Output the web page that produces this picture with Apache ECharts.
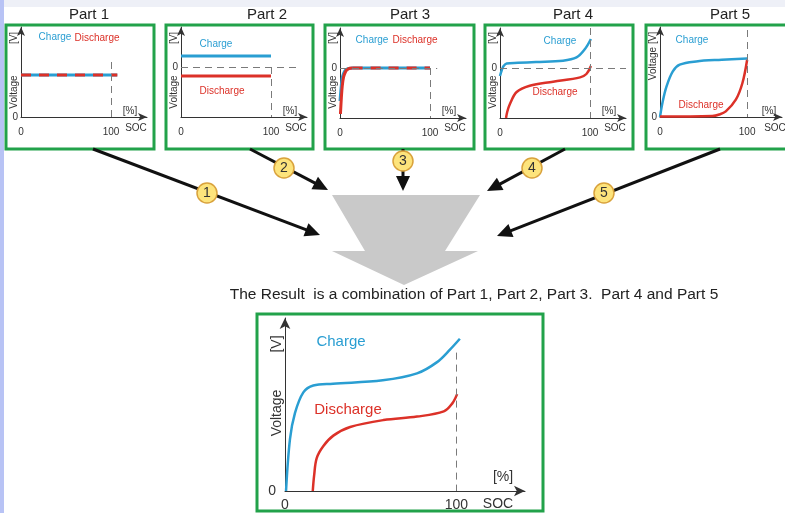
<!DOCTYPE html>
<html lang="en">
<head>
    <meta charset="UTF-8">
    <title>SOC - Voltage parts</title>
    <script src="https://cdn.jsdelivr.net/npm/echarts@6/dist/echarts.min.js"></script>
    <style>
        html, body { margin: 0; padding: 0; background: #fff; }
    </style>
</head>
<body>
<div id="main" style="width: 785px;height:513px;"></div>

<script type="text/javascript">
    // 各部分的曲线数据 [SOC %, 电压(相对)]
    var p1Charge = [[0, 4.2], [107, 4.2]];
    var p1Discharge = [[0, 4.2], [107, 4.2]];

    var p2Charge = [[0, 1.1], [100, 1.1]];
    var p2Discharge = [[0, -0.9], [100, -0.9]];

    var p3Charge = [[0, -3.3], [1, -2.2], [2, -1.3], [3, -0.8], [5, -0.35], [7, -0.15], [10, -0.05], [14, 0], [100, 0]];
    var p3DischargeRise = [[0.5, -4.6], [1.5, -3.0], [2.5, -1.8], [4, -0.9], [6, -0.4], [8, -0.15], [11, -0.03], [14, 0]];
    var p3DischargeFlat = [[14, 0], [100, 0]];

    var p4Charge = [[0, -0.8], [2, -0.2], [4, 0.2], [7.4, 0.46], [20, 0.52], [40, 0.6], [70, 0.73], [85, 1.06], [94.4, 1.9], [101, 2.9]];
    var p4Discharge = [[6.7, -5], [8, -4.4], [11, -3.6], [18.5, -2.4], [33, -1.77], [59, -1.37], [89, -0.94], [96, -0.6], [101, 0.2]];

    var p5Charge = [[0, 0], [3, 1.5], [7.5, 3.06], [14.7, 4.56], [22.6, 5.23], [41.5, 5.56], [71, 5.73], [100, 5.86]];
    var p5Discharge = [[0, 0.05], [60, 0.1], [68, 0.25], [75.5, 0.56], [87, 1.73], [94.6, 3.4], [100, 5.73]];

    var resCharge = [[0.6, 0], [2.9, 3.0], [5.8, 4.5], [10.7, 5.7], [16.5, 6.1], [28, 6.2], [57, 6.4], [77, 6.8], [88.7, 7.45], [96.5, 8.2], [102, 8.8]];
    var resDischarge = [[16.2, 0], [17, 0.9], [18.5, 1.9], [22.4, 2.6], [28.2, 3.2], [38, 3.7], [57.5, 4.1], [77, 4.3], [92.6, 4.6], [97.5, 5.05], [100.4, 5.6]];

    var partTitles = ['Part 1', 'Part 2', 'Part 3', 'Part 4', 'Part 5'];
    var xTicks = [0, 100];
    var resultText = 'The Result  is a combination of Part 1, Part 2, Part 3.  Part 4 and Part 5';

    var BLUE = '#2a9ed2';
    var RED = '#dc3128';
    var GREEN = '#22a24a';
    var FONT = 'Arial, "Liberation Sans", sans-serif';

    var myChart = echarts.init(document.getElementById('main'));

    // 6个坐标系：5个小图 + 结果图
    var grids = [
        {left: 21, top: 27, width: 126, height: 90, ymin: 0, ymax: 9, yint: 9},
        {left: 181, top: 27, width: 126, height: 90, ymin: -5, ymax: 4, yint: 5},
        {left: 340, top: 28, width: 126, height: 90, ymin: -5, ymax: 4, yint: 5},
        {left: 500, top: 28, width: 126, height: 90, ymin: -5, ymax: 4, yint: 5},
        {left: 660, top: 27, width: 126, height: 90, ymin: 0, ymax: 9, yint: 9},
        {left: 285, top: 318, width: 240, height: 173, ymin: 0, ymax: 10, yint: 10}
    ];

    function xAxisOf(i) {
        var big = i === 5;
        return {
            type: 'value', gridIndex: i, min: 0, max: 140, interval: 100,
            splitLine: {show: false}, axisTick: {show: false},
            axisLine: {onZero: false, symbol: ['none', 'arrow'], symbolSize: big ? [8, 11] : [6, 9],
                lineStyle: {color: '#333', width: 1}},
            axisLabel: {
                color: '#333', fontSize: big ? 14 : 10, fontFamily: FONT, margin: big ? 7 : 10,
                formatter: function (v) { return xTicks.indexOf(v) >= 0 ? String(v) : ''; }
            }
        };
    }
    function yAxisOf(i) {
        var g = grids[i], big = i === 5;
        return {
            type: 'value', gridIndex: i, min: g.ymin, max: g.ymax, interval: g.yint,
            splitLine: {show: false}, axisTick: {show: false},
            axisLine: {onZero: false, symbol: ['none', 'arrow'], symbolSize: big ? [8, 11] : [6, 9],
                lineStyle: {color: '#333', width: 1}},
            axisLabel: {
                color: '#333', fontSize: big ? 14 : 10, fontFamily: FONT, margin: big ? 9 : 3,
                formatter: function (v) { return v === 0 ? '0' : ''; }
            }
        };
    }

    var dashGray = {color: '#7a7a7a', width: 1, type: [7, 5]};

    function line(i, data, color, width, dash, marks) {
        var s = {
            type: 'line', xAxisIndex: i, yAxisIndex: i, data: data,
            showSymbol: false, symbol: 'none', smooth: data.length > 2 ? 0.35 : false,
            lineStyle: {color: color, width: width, type: dash || 'solid', cap: 'butt'},
            silent: true, z: 3
        };
        if (marks) {
            s.markLine = {
                silent: true, symbol: ['none', 'none'], label: {show: false},
                lineStyle: dashGray,
                data: marks.map(function (m) { return [{coord: m[0]}, {coord: m[1]}]; })
            };
        }
        return s;
    }

    var series = [
        // Part 1
        line(0, p1Charge, BLUE, 3, null, [[[100, 5.5], [100, 0]]]),
        line(0, p1Discharge, RED, 3, [10, 8]),
        // Part 2
        line(1, p2Charge, BLUE, 3, null, [[[0, 0], [133, 0]], [[100, 0], [100, -5]]]),
        line(1, p2Discharge, RED, 3),
        // Part 3
        line(2, p3Charge, BLUE, 3, null, [[[0, 0], [108, 0]], [[100, 0], [100, -5]]]),
        line(2, p3DischargeRise, RED, 3),
        line(2, p3DischargeFlat, RED, 3, [10, 8]),
        // Part 4
        line(3, p4Charge, BLUE, 2.5, null, [[[0, 0], [140, 0]], [[100, 4], [100, -5]]]),
        line(3, p4Discharge, RED, 2.5),
        // Part 5
        line(4, p5Charge, BLUE, 2.5, null, [[[100, 8.7], [100, 0]]]),
        line(4, p5Discharge, RED, 2.5),
        // Result
        line(5, resCharge, BLUE, 2.5, null, [[[100, 8.0], [100, 0]]]),
        line(5, resDischarge, RED, 2.5)
    ];

    // 文字
    function txt(x, y, s, color, size, rot, weight) {
        return {
            type: 'text', x: x, y: y, rotation: rot || 0, z: 10,
            style: {text: s, fill: color, fontSize: size, fontFamily: FONT, fontWeight: weight || 'normal',
                align: 'center', verticalAlign: 'middle'}
        };
    }
    // 箭头
    function arrow(x1, y1, x2, y2) {
        var dx = x2 - x1, dy = y2 - y1, len = Math.sqrt(dx * dx + dy * dy);
        var ux = dx / len, uy = dy / len, hl = 15, hw = 7;
        var bx = x2 - ux * hl, by = y2 - uy * hl;
        return [
            {type: 'line', z: 5, shape: {x1: x1, y1: y1, x2: bx + ux * 2, y2: by + uy * 2},
                style: {stroke: '#111', lineWidth: 3}},
            {type: 'polygon', z: 5, shape: {points: [[x2, y2], [bx - uy * hw, by + ux * hw], [bx + uy * hw, by - ux * hw]]},
                style: {fill: '#111'}}
        ];
    }
    function badge(x, y, n) {
        return [
            {type: 'circle', z: 6, shape: {cx: x, cy: y, r: 10}, style: {fill: '#fde47c', stroke: '#d9a23c', lineWidth: 1.5}},
            txt(x, y + 0.5, String(n), '#333', 14)
        ];
    }

    var graphic = [
        {type: 'rect', z: -1, shape: {x: 0, y: 0, width: 785, height: 7}, style: {fill: '#eef0f7'}},
        {type: 'rect', z: -1, shape: {x: 0, y: 0, width: 4, height: 513}, style: {fill: '#b8c3f5'}}
    ];

    var boxes = [[6, 25, 148, 124], [166, 25, 147, 124], [325, 25, 149, 124], [485, 25, 148, 124], [646, 25, 150, 124], [257, 314, 286, 197]];
    boxes.forEach(function (b) {
        graphic.push({type: 'rect', z: 1, shape: {x: b[0], y: b[1], width: b[2], height: b[3]},
            style: {fill: 'none', stroke: GREEN, lineWidth: 3}});
    });

    var titleX = [89, 267, 410, 573, 730];
    partTitles.forEach(function (t, i) { graphic.push(txt(titleX[i], 15, t, '#222', 15)); });

    // Charge / Discharge 标签
    var chargePos = [[55, 37], [216, 44], [372, 40], [560, 41], [692, 40]];
    var dischargePos = [[97, 38], [222, 91], [415, 40], [555, 92], [701, 105]];
    for (var i = 0; i < 5; i++) {
        graphic.push(txt(chargePos[i][0], chargePos[i][1], 'Charge', BLUE, 10));
        graphic.push(txt(dischargePos[i][0], dischargePos[i][1], 'Discharge', RED, 10));
        var ox = grids[i].left;
        graphic.push(txt(ox + 115, 128, 'SOC', '#333', 10));
        graphic.push(txt(ox + 109, 111, '[%]', '#333', 10));
        if (i < 4) {
            graphic.push(txt(ox - 7, 38, '[V]', '#333', 10, Math.PI / 2));
            graphic.push(txt(ox - 7, 92, 'Voltage', '#333', 10, Math.PI / 2));
        } else {
            graphic.push(txt(ox - 7, 56, 'Voltage [V]', '#333', 10, Math.PI / 2));
        }
    }
    graphic.push(txt(341, 342, 'Charge', BLUE, 15));
    graphic.push(txt(348, 410, 'Discharge', RED, 15));
    graphic.push(txt(277, 344, '[V]', '#333', 14, Math.PI / 2));
    graphic.push(txt(277, 413, 'Voltage', '#333', 14, Math.PI / 2));
    graphic.push(txt(503, 477, '[%]', '#333', 14));
    graphic.push(txt(498, 504, 'SOC', '#333', 14));

    // 灰色漏斗箭头
    graphic.push({type: 'polygon', z: 2, shape: {points: [[332, 195], [480, 195], [445, 251], [478, 251], [404, 285], [332, 251], [365, 251]]},
        style: {fill: '#c9c9c9'}});
    graphic.push(txt(474, 295, resultText, '#222', 15.5));

    // 箭头和编号
    var arrows = [[93, 149, 320, 235], [250, 149, 328, 190], [403, 149, 403, 191], [565, 149, 487, 191], [720, 149, 497, 236]];
    var badges = [[207, 193], [284, 168], [403, 161], [532, 168], [604, 193]];
    arrows.forEach(function (a, k) {
        graphic = graphic.concat(arrow(a[0], a[1], a[2], a[3]));
        graphic = graphic.concat(badge(badges[k][0], badges[k][1], k + 1));
    });

    var option = {
        backgroundColor: '#fff',
        animation: false,
        grid: grids.map(function (g) { return {left: g.left, top: g.top, width: g.width, height: g.height}; }),
        xAxis: grids.map(function (g, i) { return xAxisOf(i); }),
        yAxis: grids.map(function (g, i) { return yAxisOf(i); }),
        series: series,
        graphic: graphic
    };
    myChart.setOption(option);
</script>
</body>
</html>
